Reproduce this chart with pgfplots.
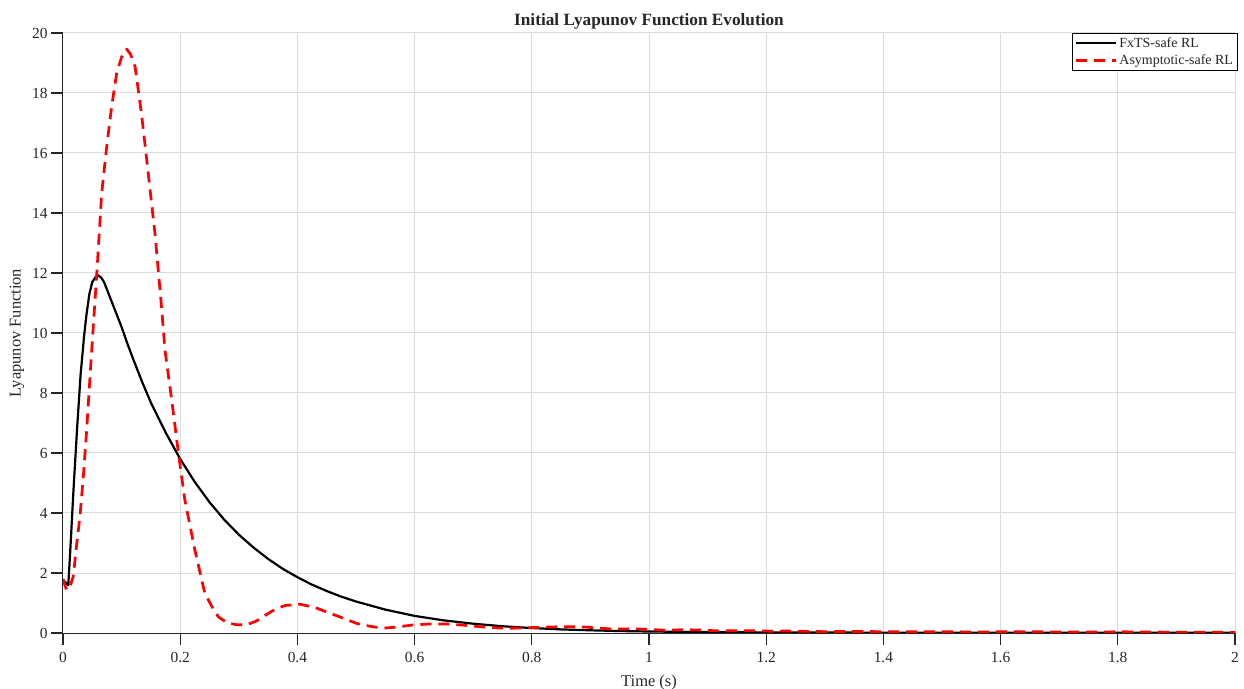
\documentclass[border=0pt]{standalone}
\usepackage{fontspec}
\setmainfont{Liberation Serif}
\usepackage{pgfplots}
\pgfplotsset{compat=1.18}
\usetikzlibrary{calc}
\definecolor{axgray}{HTML}{262626}
\definecolor{gridgray}{HTML}{DCDCDC}
\begin{document}
\begin{tikzpicture}
\begin{axis}[
  scale only axis,
  width=1172bp, height=600bp,
  xmin=0, xmax=2, ymin=0, ymax=20,
  xtick={0,0.2,...,2.01}, ytick={0,2,...,20},
  xticklabels={0,0.2,0.4,0.6,0.8,1,1.2,1.4,1.6,1.8,2},
  xtick pos=lower, ytick pos=left,
  axis line style={draw=none},
  tick style={draw=axgray, line width=1bp},
  tick align=outside,
  major tick length=12bp,
  grid=major,
  major grid style={gridgray, line width=1bp},
  /pgf/number format/assume math mode=true,
  ticklabel style={font=\fontsize{15.5}{17}\selectfont, text=axgray},
  xticklabel style={yshift=-4bp},
  label style={font=\fontsize{16.5}{18}\selectfont, text=axgray},
  xlabel={Time (s)},
  ylabel={Lyapunov Function},
  xlabel style={yshift=-5bp},
  ylabel style={yshift=1bp},
  title={\textbf{Initial Lyapunov Function Evolution}},
  title style={font=\fontsize{17.3}{19}\selectfont, text=axgray, yshift=-6bp},
  legend style={at={(1.002,1)}, anchor=north east, draw=black, line width=0.8bp,
    font=\fontsize{14}{15}\selectfont, text=axgray, inner sep=2bp, row sep=2bp,
    cells={anchor=west}},
  legend image code/.code={\draw[#1] (0bp,0bp) -- (40bp,0bp);},
  clip=false,
]
\addplot[black, line width=2.2bp, line join=round] coordinates {
(0,1.77) (0.009,1.6) (0.012,2.6) (0.018,4.8) (0.024,6.8) (0.030,8.6) (0.036,9.9)
(0.040,10.6) (0.045,11.3) (0.050,11.7) (0.055,11.85) (0.059,11.93) (0.065,11.85)
(0.070,11.7) (0.080,11.2) (0.090,10.7) (0.100,10.2) (0.110,9.64) (0.120,9.12)
(0.135,8.37) (0.150,7.68) (0.175,6.69) (0.200,5.80) (0.225,5.03) (0.250,4.36)
(0.275,3.78) (0.300,3.28) (0.325,2.85) (0.350,2.47) (0.375,2.14) (0.400,1.86)
(0.425,1.61) (0.450,1.40) (0.475,1.21) (0.50,1.05) (0.55,0.78) (0.60,0.57)
(0.65,0.42) (0.70,0.31) (0.75,0.225) (0.80,0.165) (0.85,0.12) (0.90,0.09)
(0.95,0.065) (1.00,0.05) (1.1,0.03) (1.2,0.02) (1.4,0.012) (1.6,0.008)
(1.8,0.006) (2.0,0.005)
};
\addlegendentry{FxTS-safe RL}
\addplot[red, line width=2.7bp, dash pattern=on 11bp off 7bp, line join=round] coordinates {
(0,1.8) (0.006,1.43) (0.012,1.55) (0.0176,1.9) (0.023,2.9) (0.029,3.9) (0.035,5.3)
(0.040,6.66) (0.049,9.43) (0.0575,11.93) (0.066,14.66) (0.0745,16.2) (0.083,17.55)
(0.0916,18.66) (0.100,19.2) (0.1087,19.46) (0.115,19.3) (0.123,18.88) (0.134,17.3)
(0.1456,15.3) (0.157,13.3) (0.168,10.9) (0.174,9.43) (0.1855,7.77) (0.197,5.99)
(0.208,4.43) (0.225,2.77) (0.242,1.32) (0.255,0.85) (0.265,0.54) (0.28,0.34)
(0.295,0.28) (0.313,0.27) (0.33,0.4) (0.35,0.65) (0.3646,0.82) (0.38,0.92)
(0.404,0.96) (0.43,0.85) (0.4556,0.66) (0.48,0.48) (0.501,0.32) (0.525,0.22)
(0.5466,0.16) (0.57,0.2) (0.598,0.27) (0.625,0.3) (0.655,0.30) (0.685,0.26)
(0.711,0.21) (0.74,0.17) (0.768,0.16) (0.814,0.19) (0.85,0.21) (0.882,0.21)
(0.91,0.17) (0.939,0.13) (0.97,0.14) (1.0,0.12) (1.03,0.09) (1.058,0.11)
(1.087,0.1) (1.118,0.07) (1.15,0.08) (1.178,0.08) (1.206,0.06) (1.237,0.065)
(1.266,0.055) (1.3,0.045) (1.35,0.05) (1.4,0.045) (1.45,0.04) (1.5,0.045)
(1.55,0.035) (1.6,0.04) (1.65,0.045) (1.7,0.035) (1.75,0.03) (1.8,0.04)
(1.85,0.035) (1.9,0.025) (1.95,0.025) (2.0,0.02)
};
\addlegendentry{Asymptotic-safe RL}
\draw[axgray, line width=1bp] (rel axis cs:0,1) -- (rel axis cs:0,0) -- (rel axis cs:1,0);
\coordinate (sw) at (rel axis cs:0,0);
\coordinate (se) at (rel axis cs:1,0);
\coordinate (nw) at (rel axis cs:0,1);
\coordinate (ne) at (rel axis cs:1,1);
\end{axis}
\foreach \i in {0,1,...,10}{
  \draw[axgray, line width=1.2bp] ($(sw)!\i/10!(se)$) -- ++(0bp,-12bp);
  \draw[axgray, line width=1.2bp] ($(sw)!\i/10!(nw)$) -- ++(-12bp,0bp);
}
\pgfresetboundingbox
\path[use as bounding box] ($(sw)+(-63bp,-56bp)$) rectangle ($(ne)+(9bp,33bp)$);
\end{tikzpicture}
\end{document}
